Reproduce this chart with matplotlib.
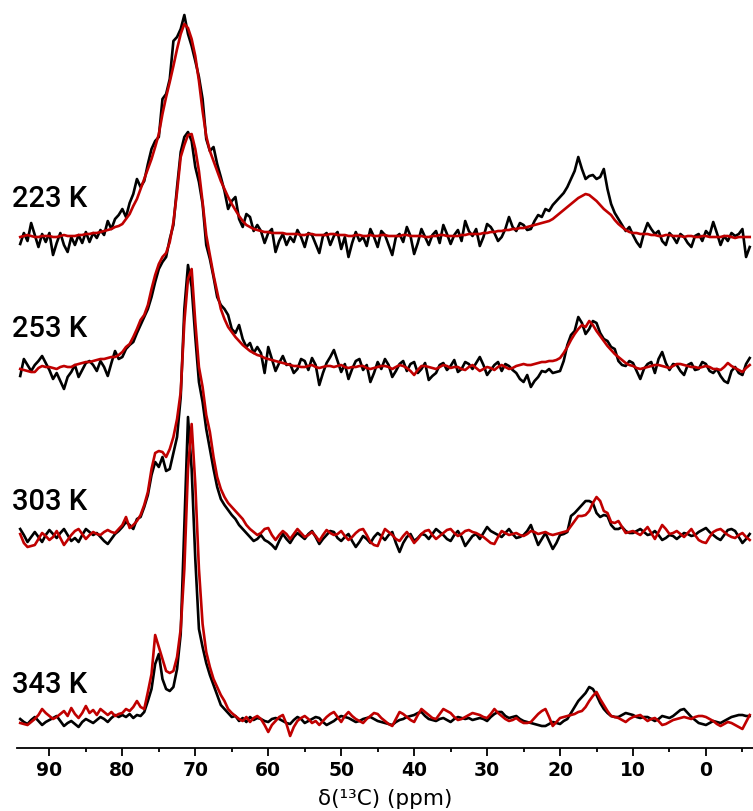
import numpy as np
import matplotlib
matplotlib.use("Agg")
import matplotlib.pyplot as plt

# chemical shift grid, 94 -> -6 ppm in 0.5 ppm steps (201 points)
ppm = np.arange(94, -6.25, -0.5)

temps = ['223 K', '253 K', '303 K', '343 K']
offsets = [509, 381, 211, 29]
label_base = [207, 337, 510, 693]   # label baselines, pixels from top

# black and red spectra, heights above each baseline (a.u.); one row = 6 ppm
k223 = [-5, 6, -2, 16, 4, -8, 5, -3, 6, -16, -4, 6,
        -6, -13, 2, -6, 4, -4, 7, -3, 6, 1, 9, 4,
        18, 10, 20, 24, 30, 22, 36, 45, 60, 52, 58, 75,
        90, 98, 102, 140, 145, 160, 198, 202, 210, 224, 205, 193,
        178, 162, 140, 100, 88, 92, 75, 62, 48, 30, 38, 42,
        20, 12, 25, 22, 8, 14, 8, -4, 6, 10, -13, -2,
        5, -6, 2, -3, 9, 2, -8, 6, 4, -5, -14, 3,
        6, -6, 3, 7, -10, 2, -18, -4, 7, -2, 2, -7,
        10, 2, -8, 8, 4, -6, -16, 2, 5, -3, 12, 3,
        -15, -4, 10, 2, -6, 4, 8, -4, 14, 5, -5, 4,
        9, -2, 18, 8, 3, 10, -7, 2, 15, 12, 6, -2,
        2, 10, 22, 12, 8, 16, 14, 9, 10, 18, 24, 22,
        30, 28, 34, 38, 42, 46, 52, 60, 68, 82, 70, 60,
        63, 64, 60, 62, 70, 50, 35, 26, 20, 14, 8, 12,
        4, -3, -8, 6, 16, 10, 5, 8, -2, -6, 6, 2,
        -4, 5, 2, -4, -8, 3, 5, -2, 8, 4, 17, 6,
        -6, 3, -2, 6, 3, 5, 10, -18, -8]
r223 = [2, 3, 4, 3, 2, 2, 3, 3, 3, 2, 2, 3,
        4, 3, 3, 3, 4, 4, 5, 5, 6, 6, 7, 8,
        9, 10, 12, 13, 15, 20, 25, 33, 40, 50, 60, 70,
        80, 92, 105, 125, 142, 157, 173, 190, 205, 215, 211, 200,
        183, 158, 128, 103, 88, 78, 68, 58, 50, 42, 35, 29,
        23, 18, 14, 12, 10, 9, 8, 7, 7, 6, 6, 6,
        6, 5, 5, 5, 5, 4, 4, 5, 5, 4, 4, 4,
        4, 5, 5, 4, 4, 4, 3, 3, 4, 4, 3, 3,
        4, 3, 3, 4, 4, 3, 3, 3, 3, 4, 4, 3,
        3, 3, 3, 2, 2, 3, 3, 4, 4, 3, 3, 3,
        3, 4, 4, 5, 5, 5, 5, 6, 6, 7, 7, 8,
        8, 9, 9, 10, 10, 11, 11, 12, 13, 14, 15, 16,
        17, 18, 20, 23, 26, 29, 32, 35, 38, 41, 43, 45,
        44, 41, 38, 34, 30, 27, 24, 19, 15, 12, 9, 7,
        6, 6, 5, 5, 5, 4, 4, 3, 3, 4, 4, 3,
        3, 3, 2, 3, 3, 2, 2, 3, 3, 2, 2, 2,
        2, 3, 3, 2, 1, 2, 2, 2, 2]

k253 = [-9, 8, 2, -4, 2, 6, 11, 4, -3, -12, -6, -14,
        -22, -10, -5, 2, -10, -3, 4, 6, 2, -4, 6, 0,
        -9, 4, 16, 8, 10, 18, 22, 25, 34, 42, 50, 58,
        70, 85, 98, 105, 110, 128, 142, 180, 215, 230, 235, 226,
        200, 185, 163, 122, 108, 90, 70, 62, 58, 52, 38, 34,
        42, 28, 20, 24, 14, 20, 14, -6, 20, 8, -4, 4,
        11, 2, 3, -6, -2, 8, 6, -3, 9, 2, -18, -6,
        4, 10, 17, 6, -5, 3, -12, -2, 6, 8, -3, 2,
        -15, -6, 5, -2, 8, 2, -10, -4, 3, 6, -4, 3,
        5, -6, -2, 4, -13, -9, -6, 2, 4, -3, 1, 7,
        -5, -2, 5, 3, -2, 4, 10, 2, -8, -3, 2, 5,
        -4, 3, 1, -3, -6, -12, -15, -8, -20, -14, -10, -4,
        -5, -2, -6, -5, -4, 6, 22, 32, 36, 50, 44, 33,
        38, 46, 44, 34, 28, 26, 20, 18, 6, 2, 1, 6,
        4, -4, -12, -2, 3, 5, -6, 8, 15, 4, -3, 3,
        2, -4, -8, 2, 4, -3, -2, 5, 3, -4, -6, -2,
        -9, -14, -16, -4, 0, -6, -8, 3, 9]
r253 = [-2, -3, -4, -5, -5, -1, 1, 0, 0, -1, -2, 0,
        1, 0, 0, 2, 3, 4, 5, 5, 6, 7, 8, 8,
        9, 10, 10, 12, 15, 20, 23, 30, 38, 47, 52, 62,
        78, 92, 103, 110, 114, 125, 145, 175, 210, 222, 232, 233,
        218, 196, 165, 132, 112, 92, 75, 58, 48, 40, 35, 30,
        26, 22, 19, 16, 14, 12, 11, 9, 8, 7, 6, 5,
        4, 3, 2, 1, 1, 0, 0, 1, 2, 0, -1, 0,
        1, 1, 0, 1, 2, 0, -1, 0, 0, 1, 1, -1,
        -2, -1, 0, 1, 1, 0, -2, 0, 2, 1, -1, -4,
        -8, -3, 1, 1, 0, -1, -2, 0, 2, 1, -1, 0,
        0, -2, -3, 0, 2, -1, -4, -2, 0, -1, -3, 0,
        2, 0, -2, -1, 1, 2, 3, 2, 2, 3, 4, 5,
        5, 6, 6, 7, 9, 14, 20, 27, 33, 38, 42, 40,
        46, 42, 36, 31, 26, 21, 17, 13, 10, 7, 4, 2,
        1, -1, -2, -1, 0, 1, 2, 2, 1, 0, -1, 1,
        3, 3, 2, 1, 0, 0, -1, 0, 1, 0, -2, -2,
        -3, 0, 4, 1, -1, -3, -5, -1, 2]

k303 = [8, 2, -5, 0, 5, 0, -5, 2, 7, 3, -1, 4,
        8, 2, -4, -1, -5, 2, 8, 5, 2, 4, 0, -4,
        -7, -2, 3, 6, 10, 15, 12, 8, 18, 20, 30, 42,
        62, 75, 70, 80, 66, 68, 84, 100, 140, 228, 272, 250,
        200, 155, 135, 108, 88, 68, 50, 38, 32, 27, 22, 18,
        12, 8, 4, 0, -4, -2, 2, -3, -5, -8, -12, -4,
        3, -2, -6, 0, 4, 1, -2, 3, 6, 0, -7, -2,
        2, 6, 5, -1, -4, 0, 3, -4, -10, -5, 1, -2,
        -6, 0, 4, 1, -3, 2, 5, -6, -15, -6, 0, 3,
        -4, -1, 3, 2, -2, 3, 8, 5, 2, -2, -4, 2,
        6, 0, -9, -4, 1, 3, -2, 4, 10, 6, 4, 2,
        0, 4, 8, 3, -1, 0, 2, 6, 12, 2, -8, -2,
        4, -4, -12, -6, 2, 3, 5, 21, 24, 28, 32, 36,
        36, 34, 24, 20, 22, 21, 12, 8, 8, 10, 6, 4,
        4, 6, 8, 5, 2, 3, 6, 2, -3, -1, 2, 1,
        -2, 1, 4, 3, 1, 2, 5, 7, 9, 5, 2, -1,
        -3, 2, 7, 8, 6, 0, -6, -2, 3]
r303 = [3, -6, -10, -9, -8, -2, 4, 1, -3, 0, 6, -1,
        -8, -3, 2, 6, 8, 3, -2, 2, 5, 3, 2, 5,
        7, 5, 4, 8, 12, 20, 9, 12, 16, 22, 32, 45,
        68, 84, 86, 85, 80, 88, 100, 118, 145, 215, 258, 268,
        215, 170, 150, 122, 105, 80, 60, 48, 40, 34, 30, 26,
        22, 18, 12, 8, 5, 2, 4, 8, 9, 2, -3, 2,
        6, 3, -2, 3, 8, 4, 0, 2, 5, 1, -4, 2,
        7, 4, 2, 3, 6, 1, -3, 0, 4, 7, 8, 2,
        -5, -8, -9, 0, 8, 5, 2, -2, -4, 1, 5, 0,
        -6, -2, 3, 6, 7, 2, -2, 1, 4, 7, 8, 4,
        1, 3, 6, 7, 5, 4, 2, 0, -3, -6, -7, 0,
        6, 4, 2, 3, 4, 2, 1, 3, 6, 5, 3, 4,
        5, 3, 2, 3, 4, 5, 6, 11, 16, 21, 21, 22,
        26, 34, 40, 36, 26, 24, 15, 14, 16, 10, 4, 5,
        6, 4, 2, 6, 10, 4, -2, 5, 12, 8, 3, 4,
        6, 3, 0, 4, 8, 2, -3, -5, -6, 0, 5, 7,
        8, 5, 2, 0, -1, 2, 4, 0, -3]

k343 = [0, -3, -5, -1, 2, -2, -6, -3, -1, 1, 3, -2,
        -7, -4, -2, -5, -8, -3, 0, -2, -4, -1, 2, 0,
        -3, 1, 4, 2, 4, 2, 5, 1, 4, 3, 7, 18,
        30, 55, 65, 40, 30, 28, 32, 50, 85, 195, 302, 250,
        160, 90, 72, 56, 44, 34, 24, 14, 10, 6, 2, 3,
        -2, 1, -3, 2, -1, 1, 0, -2, -3, 0, 1, 0,
        -2, -4, -5, -1, 2, 0, -4, -2, 0, 2, 1, -3,
        -6, -4, -2, 1, 3, 2, 1, -1, -3, -2, 0, 1,
        2, 0, -2, -3, -4, -5, -6, -3, -1, 0, 2, 3,
        4, 6, 7, 3, 0, -1, -2, 0, 1, -1, -3, 0,
        2, 1, 0, 1, -1, 0, 1, 0, -2, 2, 5, 7,
        7, 3, 1, 2, 3, 0, -2, -3, -4, -5, -6, -7,
        -7, -5, -3, -4, -5, -2, 0, 6, 12, 18, 22, 26,
        32, 30, 24, 16, 10, 6, 3, 2, 2, 4, 6, 5,
        4, 2, 1, 2, 2, 0, -2, 0, 3, 2, 1, 3,
        6, 9, 10, 6, 2, -1, -4, -5, -6, -4, -2, -3,
        -4, -2, 0, 2, 3, 4, 4, 3, 3]
r343 = [-4, -5, -6, -3, 0, 4, 10, 6, 3, 0, 2, 5,
        8, 3, 11, 5, 1, 6, 13, 6, 9, 4, 10, 7,
        4, 7, 3, 5, 6, 10, 8, 12, 18, 12, 10, 27,
        45, 84, 72, 60, 48, 46, 48, 62, 90, 150, 250, 295,
        235, 150, 95, 67, 52, 40, 32, 24, 18, 10, 6, 3,
        0, -2, 2, -3, 1, 3, 0, -6, -13, -6, -2, 2,
        4, -5, -17, -8, -2, 1, 3, 0, -4, -2, -6, -2,
        2, 5, 7, 2, -3, 3, 7, 3, 0, -2, -4, 0,
        3, 6, 5, 1, -2, -5, -7, 0, 7, 5, 2, -1,
        -3, 4, 10, 7, 4, 1, 0, 5, 10, 8, 6, 2,
        -1, 0, 2, 4, 6, 5, 4, 2, 1, 5, 10, 6,
        3, 0, -2, -1, 1, -2, -4, -4, -3, 1, 5, 8,
        10, 2, -7, -3, 1, 2, 3, 4, 5, 7, 8, 12,
        18, 23, 27, 20, 14, 8, 3, 2, 1, -1, -3, 0,
        2, 3, 4, 1, -2, 0, 1, -2, -6, -5, -3, -1,
        0, 1, 2, 1, 0, 2, 3, 3, 2, 0, -2, -5,
        -7, -5, -3, -4, -6, -8, -10, -3, 4]

blacks = [k223, k253, k303, k343]
reds = [r223, r253, r303, r343]

fig = plt.figure(figsize=(7.53, 8.12), dpi=100)
ax = fig.add_axes([17/753, 63/812, 736/753, 749/812])

for lab, off, k, r, yb in zip(temps, offsets, blacks, reds, label_base):
    ax.plot(ppm, np.array(k) + off, color='black', lw=1.9)
    ax.plot(ppm, np.array(r) + off, color='#c00000', lw=1.9)
    fig.text(12/753, 1 - yb/812, lab, fontsize=21, family=['Roboto', 'DejaVu Sans'],
             fontweight='medium', va='baseline', ha='left')

ax.set_xlim(94.44, -6.45)
ax.set_ylim(0, 749)
for s in ['left', 'right', 'top']:
    ax.spines[s].set_visible(False)
ax.spines['bottom'].set_linewidth(1.3)
ax.set_yticks([])
ax.set_xticks(np.arange(90, -1, -10))
ax.set_xticks(np.arange(85, -10, -10), minor=True)
ax.tick_params(axis='x', which='major', length=6, width=1.3, labelsize=13.5, pad=3)
ax.tick_params(axis='x', which='minor', length=3, width=1.3)
for t in ax.get_xticklabels():
    t.set_fontweight('bold')
ax.set_xlabel('δ(¹³C) (ppm)', fontsize=15.5, labelpad=6)

fig.savefig('out.png', dpi=100)
